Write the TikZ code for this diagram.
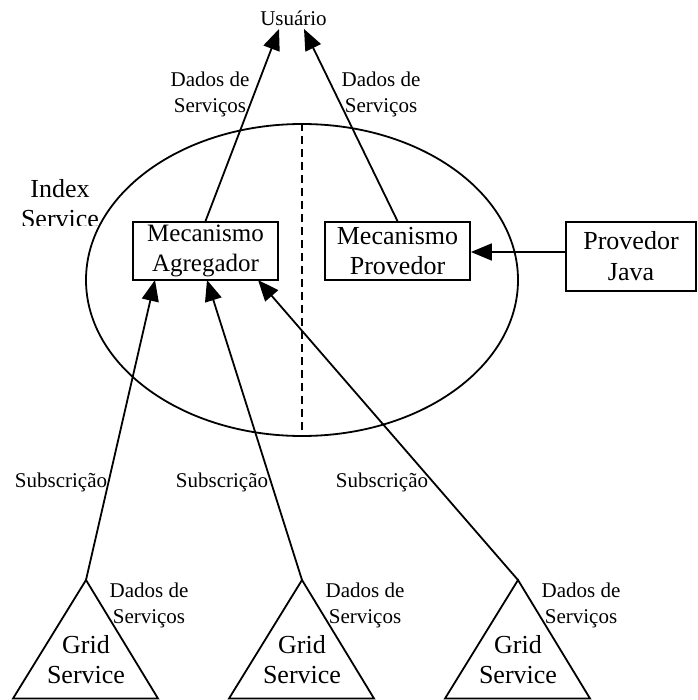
\documentclass[tikz,border=0pt]{standalone}
\usepackage{fontspec}
\setmainfont{Liberation Serif}
\usetikzlibrary{arrows.meta,shapes.geometric}

\tikzset{
  big/.style={font=\fontsize{26pt}{30pt}\selectfont, align=center, inner sep=0pt},
  small/.style={font=\fontsize{21pt}{26pt}\selectfont, align=center, inner sep=0pt},
  boxnode/.style={draw, line width=1.8pt, inner sep=0pt, align=center},
  conn/.style={line width=1.8pt, -{Triangle[length=21pt,width=17pt]}},
  gridtri/.style={line width=1.8pt, line join=miter},
}

\begin{document}
\begin{tikzpicture}[x=1pt,y=-1pt]
\useasboundingbox (0,0) rectangle (697,700);

% Index Service container with its two halves
\node[draw, ellipse, line width=1.8pt, minimum width=432pt, minimum height=312pt, inner sep=0pt] (idx) at (302,280) {};
\draw[line width=1.8pt, dash pattern=on 8pt off 5pt] (idx.north) -- (idx.south);

\begin{scope}
  \clip (0,150) rectangle (120,226);
  \node[big] (idxlabel) at (60,204) {Index\\Service};
\end{scope}

% mechanisms
\node[boxnode, minimum width=145pt, minimum height=58pt, font=\fontsize{25pt}{30pt}\selectfont] (agr) at (205.5,251) {Mecanismo\\Agregador};
\node[boxnode, minimum width=145pt, minimum height=58pt, font=\fontsize{26pt}{30pt}\selectfont] (prov) at (397.5,251) {Mecanismo\\Provedor};
\node[boxnode, minimum width=130pt, minimum height=69pt, font=\fontsize{26pt}{31pt}\selectfont] (java) at (631,256.5) {Provedor\\Java};

% user
\node[small] (user) at (293.5,18) {Usuário};
\coordinate (u1) at (279,29);
\coordinate (u2) at (304,29);

\draw[conn] (agr.north) -- (u1);
\draw[conn] (prov.north) -- (u2);
\draw[conn] (java.west |- 0,252) -- (prov.east |- 0,252);

\node[small] (d1) at (210,94) {Dados de\\Serviços};
\node[small] (d2) at (381,94) {Dados de\\Serviços};

% grid services
\foreach \n/\x in {1/86,2/302,3/518}{
  \coordinate (g\n) at (\x,580);
  \draw[gridtri] (g\n) -- (\x-73,698.5) -- (\x+72,698.5) -- cycle;
  \node[big] (gt\n) at (\x,660) {Grid\\Service};
  \node[small] (gd\n) at (\x+63,605) {Dados de\\Serviços};
}

% subscriptions into the aggregator
\coordinate (a1) at (155,280);
\coordinate (a2) at (207,280);
\coordinate (a3) at (258,280);
\draw[conn] (g1) -- (a1);
\draw[conn] (g2) -- (a2);
\draw[conn] (g3) -- (a3);

\node[small] (s1) at (61,482) {Subscrição};
\node[small] (s2) at (222,482) {Subscrição};
\node[small] (s3) at (382,482) {Subscrição};
\end{tikzpicture}
\end{document}
